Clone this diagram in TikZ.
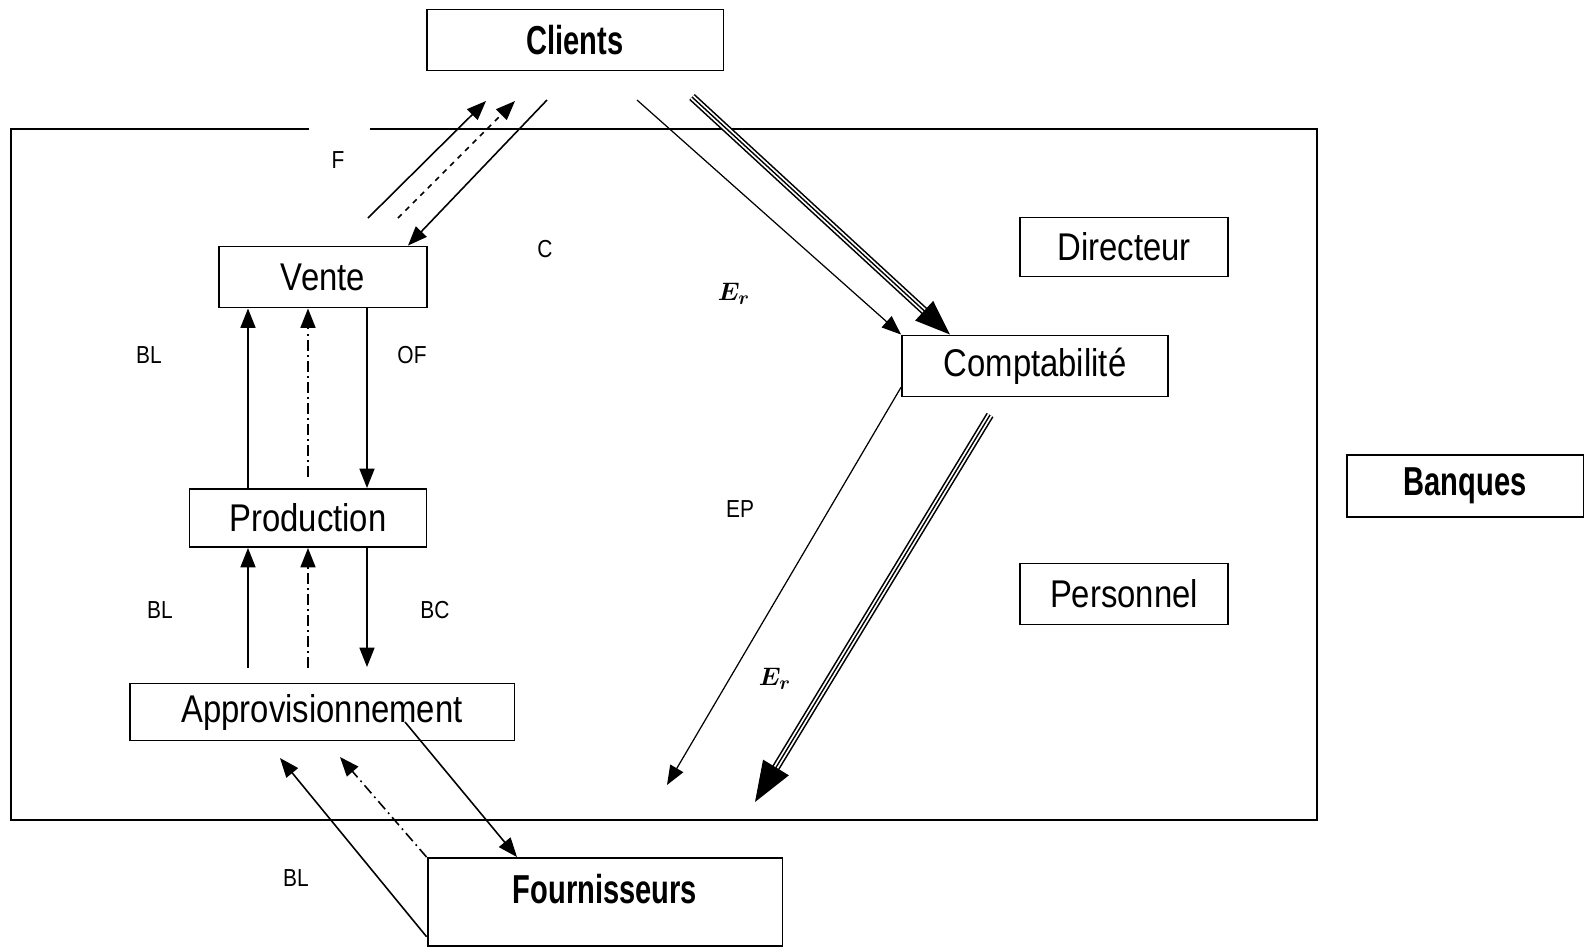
\documentclass[tikz,border=0pt]{standalone}
\usepackage{amsmath}
\usepackage{fontspec}
\setmainfont{Liberation Sans}[FakeStretch=0.85]
\newfontfamily\titlefont{Liberation Sans}[FakeStretch=0.72]
\usepackage{bm}
\usepackage{tikz}
\usetikzlibrary{arrows, arrows.meta, calc, positioning}

\begin{document}
\begin{tikzpicture}[x=0.02cm, y=-0.02cm,
		box/.style={draw, line width=1.1pt, inner sep=0pt, font=\fontsize{22}{24}\selectfont},
		bigbox/.style={draw, line width=1.1pt, inner sep=0pt, font=\titlefont\bfseries\fontsize{23}{26}\selectfont},
		lab/.style={font=\fontsize{14}{16}\selectfont},
		arr/.style={line width=0.9pt, -{Triangle[length=11pt,width=8.5pt]}},
		dashdot/.style={dash pattern=on 6pt off 2.5pt on 1pt off 2.5pt},
		tripleline/.style={line width=0.8pt, -{Triangle[length=20pt,width=15pt]},
			preaction={draw, -, line width=4.6pt, shorten >=18pt},
			preaction={draw, -, white, line width=2.8pt, shorten >=18pt}}]
	\useasboundingbox (0,0) rectangle (1589,948);
	
	% frame of the firm
	\draw[line width=1.1pt] (370,129) -- (1317,129) -- (1317,820) -- (11,820) -- (11,129) -- (309,129);
	
	\node(clients) [bigbox, minimum width=5.94cm, minimum height=1.22cm] at (575,40) {Clients};
	\node(vente) [box, minimum width=4.16cm, minimum height=1.22cm] at (323,277) {Vente};
	\node(production) [box, minimum width=4.74cm, minimum height=1.16cm] at (308,518) {Production};
	\node(appro) [box, minimum width=7.7cm, minimum height=1.14cm] at (322,712) {Approvisionnement};
	\node(fourn) [bigbox, minimum width=7.1cm, minimum height=1.76cm, text height=0.6cm, text depth=0.56cm] at (605,902) {Fournisseurs};
	\node(directeur) [box, minimum width=4.16cm, minimum height=1.18cm] at (1124,247) {Directeur};
	\node(compta) [box, minimum width=5.32cm, minimum height=1.22cm] at (1035,366) {Comptabilité};
	\node(personnel) [box, minimum width=4.16cm, minimum height=1.22cm] at (1124,594) {Personnel};
	\node(banques) [bigbox, minimum width=4.74cm, minimum height=1.24cm] at (1465,486) {Banques};
	
	% free ends
	\coordinate (colA) at (248,0);
	\coordinate (colB) at (308,0);
	\coordinate (colC) at (367,0);
	\coordinate (ddtop) at (308,477);
	\coordinate (upA) at (248,668);
	\coordinate (upB) at (308,668);
	\coordinate (downC) at (367,667);
	\coordinate (fstart) at (368,218);
	\coordinate (fend) at (486,101);
	\coordinate (dstart) at (398,218);
	\coordinate (dend) at (515,101);
	\coordinate (cstart) at (547,100);
	\coordinate (colV) at (408,0);
	\coordinate (erstart) at (637,100);
	\coordinate (trstart) at (692,97);
	\coordinate (colT) at (950,0);
	\coordinate (epend) at (667,785);
	\coordinate (tr2start) at (990,415);
	\coordinate (tr2end) at (755,802);
	\coordinate (blend) at (280,758);
	\coordinate (ddend) at (340,757);
	\coordinate (bcstart) at (405,722);
	\coordinate (colF) at (517,0);
	
	% Clients <-> Vente
	\draw[arr] (fstart) -- (fend);
	\draw[arr, dashed] (dstart) -- (dend);
	\draw[arr] (cstart) -- (vente.north -| colV);
	
	% Vente <-> Production
	\draw[arr] (production.north -| colA) -- (vente.south -| colA);
	\draw[arr, dashdot] (ddtop) -- (vente.south -| colB);
	\draw[arr] (vente.south -| colC) -- (production.north -| colC);
	
	% Production <-> Approvisionnement
	\draw[arr] (upA) -- (production.south -| colA);
	\draw[arr, dashdot] (upB) -- (production.south -| colB);
	\draw[arr] (production.south -| colC) -- (downC);
	
	% Clients -> Comptabilite
	\draw[arr, line width=0.7pt] (erstart) -- (compta.north west);
	\draw[tripleline] (trstart) -- (compta.north -| colT);
	
	% Comptabilite -> out
	\draw[arr, line width=0.7pt] (compta.189) -- (epend);
	\draw[tripleline, -{Triangle[length=23pt,width=17pt]}] (tr2start) -- (tr2end);
	
	% Fournisseurs <-> Approvisionnement
	\draw[arr] (fourn.191) -- (blend);
	\draw[arr, dashdot] (fourn.north west) -- (ddend);
	\draw[arr] (bcstart) -- (fourn.north -| colF);
	
	% labels
	\node(lF) [lab] at (338,160) {F};
	\node(lC) [lab] at (545,249) {C};
	\node(lBL1) [lab] at (149,355) {BL};
	\node(lOF) [lab] at (412,355) {OF};
	\node(lBL2) [lab] at (160,610) {BL};
	\node(lBC) [lab] at (435,610) {BC};
	\node(lEP) [lab] at (740,509) {EP};
	\node(lBL3) [lab] at (296,878) {BL};
	\node(lEr1) [font=\fontsize{15}{17}\selectfont] at (734,294) {$\bm{E}_{\bm{r}}$};
	\node(lEr2) [font=\fontsize{15}{17}\selectfont] at (775,679) {$\bm{E}_{\bm{r}}$};
\end{tikzpicture}
\end{document}
